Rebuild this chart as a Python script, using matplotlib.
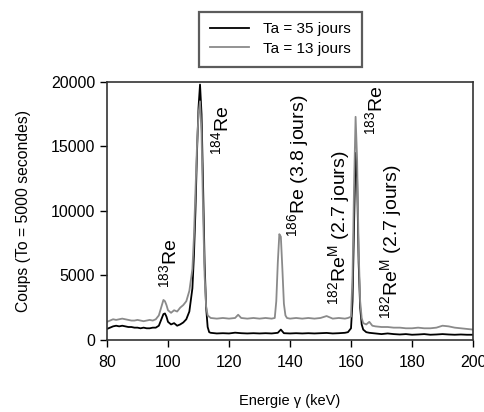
import matplotlib
matplotlib.use("Agg")
import matplotlib.pyplot as plt

plt.rcParams['font.family'] = ['Liberation Sans', 'DejaVu Sans']
plt.rcParams['mathtext.fontset'] = 'custom'
plt.rcParams['mathtext.rm'] = 'Liberation Sans'
plt.rcParams['mathtext.it'] = 'Liberation Sans'

# Energy (keV) and counts, Ta = 35 jours (black)
e35 = [80, 81, 82, 83, 84, 85, 86, 87, 88, 89, 90, 91, 92, 93, 94, 95, 96, 97,
       98, 98.5, 99, 99.5, 100, 101, 102, 103, 104, 105, 106, 107,
       108, 108.5, 109, 109.5, 110, 110.5, 111, 111.5, 112, 112.5, 113, 113.5,
       114, 116, 118, 120, 122, 124, 126, 128, 130, 132, 134, 136, 137, 138, 140,
       142, 144, 146, 148, 150, 152, 154, 156, 158, 159, 160,
       160.5, 161, 161.5, 162, 162.5, 163, 163.5, 164, 165, 166, 168, 170,
       172, 174, 176, 178, 180, 182, 184, 186, 188, 190, 192, 194, 196, 198, 200]
c35 = [850, 950, 1050, 1100, 1050, 1100, 1050, 1000, 1000, 950, 950, 900, 950, 900, 900, 950, 950, 1100,
       1700, 2000, 2050, 1800, 1400, 1200, 1300, 1100, 1200, 1350, 1600, 2200,
       4000, 6500, 10000, 14500, 18000, 19800, 17500, 12000, 6000, 2500, 1000, 600,
       550, 500, 520, 500, 560, 520, 500, 520, 500, 520, 500, 550, 800, 520, 500,
       520, 500, 520, 500, 520, 540, 500, 520, 550, 600, 900,
       3000, 9000, 14500, 12500, 6000, 2500, 1200, 800, 600, 550, 500, 450,
       500, 450, 420, 450, 400, 420, 450, 400, 420, 450, 420, 400, 420, 400, 400]

# Energy (keV) and counts, Ta = 13 jours (grey)
e13 = [80, 81, 82, 83, 84, 85, 86, 87, 88, 89, 90, 91, 92, 93, 94, 95, 96, 97,
       98, 98.5, 99, 99.5, 100, 101, 102, 103, 104, 105, 106, 107,
       108, 108.5, 109, 109.5, 110, 110.5, 111, 111.5, 112, 112.5, 113,
       114, 116, 118, 120, 122, 123, 124, 126, 128, 130, 132, 134, 135,
       135.5, 136, 136.5, 137, 137.5, 138, 138.5, 139, 140, 142, 144, 146, 148,
       150, 152, 154, 156, 158, 159, 160,
       160.5, 161, 161.5, 162, 162.5, 163, 163.5, 164, 165, 166, 167, 168, 170,
       172, 174, 176, 178, 180, 182, 184, 186, 188, 190, 192, 194, 196, 198, 200]
c13 = [1400, 1500, 1600, 1550, 1600, 1650, 1600, 1550, 1500, 1500, 1550, 1500, 1450, 1500, 1550, 1500, 1600, 1900,
       2700, 3100, 3000, 2700, 2300, 2100, 2300, 2200, 2500, 2700, 3000, 3800,
       5500, 8000, 11500, 15000, 17500, 18500, 16000, 10000, 5000, 2600, 1900,
       1700, 1650, 1700, 1650, 1700, 1950, 1700, 1650, 1700, 1650, 1700, 1650, 1700,
       3000, 6000, 8200, 8000, 5500, 2800, 1900, 1700, 1650, 1700, 1650, 1700, 1650,
       1700, 1850, 1650, 1700, 1650, 1700, 1800,
       5000, 12000, 17300, 14000, 7000, 3000, 1700, 1300, 1200, 1400, 1100, 1050, 1000,
       1000, 950, 950, 900, 900, 950, 900, 900, 950, 1100, 1050, 950, 900, 850, 800]

x_ticks = [80, 100, 120, 140, 160, 180, 200]
y_ticks = [0, 5000, 10000, 15000, 20000]

fig = plt.figure(figsize=(4.85, 4.12), dpi=100)
ax = fig.add_axes([0.2206, 0.175, 0.7547, 0.626])

l1, = ax.plot(e35, c35, color='black', lw=1.3, label='Ta = 35 jours')
l2, = ax.plot(e13, c13, color='#8a8a8a', lw=1.3, label='Ta = 13 jours')

ax.set_xlim(80, 200)
ax.set_ylim(0, 20000)
ax.set_xticks(x_ticks)
ax.set_yticks(y_ticks)
ax.tick_params(labelsize=11.5, direction='out', length=5, width=1)
ax.tick_params(axis='x', pad=6)
for s in ax.spines.values():
    s.set_linewidth(1.2)
    s.set_color('#333333')

ax.set_xlabel('Energie \u03b3 (keV)', fontsize=10.5, labelpad=17)
ax.set_ylabel('Coups (To = 5000 secondes)', fontsize=11.3, labelpad=14)

fig.legend(handles=[l1, l2], loc='center', bbox_to_anchor=(0.578, 0.905),
           fontsize=11, frameon=True, fancybox=False, edgecolor='#333333',
           handlelength=2.6, borderpad=0.7, labelspacing=0.35, handletextpad=0.9)
leg = fig.legends[0]
leg.get_frame().set_linewidth(1.6)

labels = [r'$^{183}$Re', r'$^{184}$Re', r'$^{186}$Re (3.8 jours)',
          r'$^{182}$Re$^{M}$ (2.7 jours)', r'$^{182}$Re$^{M}$ (2.7 jours)', r'$^{183}$Re']
label_x = [100.3, 117.5, 142.5, 156.0, 173.0, 168.0]
label_y = [4000, 14300, 8000, 2700, 1600, 15900]
for t, x, y in zip(labels, label_x, label_y):
    ax.text(x, y, t, rotation=90, ha='center', va='bottom', fontsize=14)

fig.savefig('out.png', dpi=100)
